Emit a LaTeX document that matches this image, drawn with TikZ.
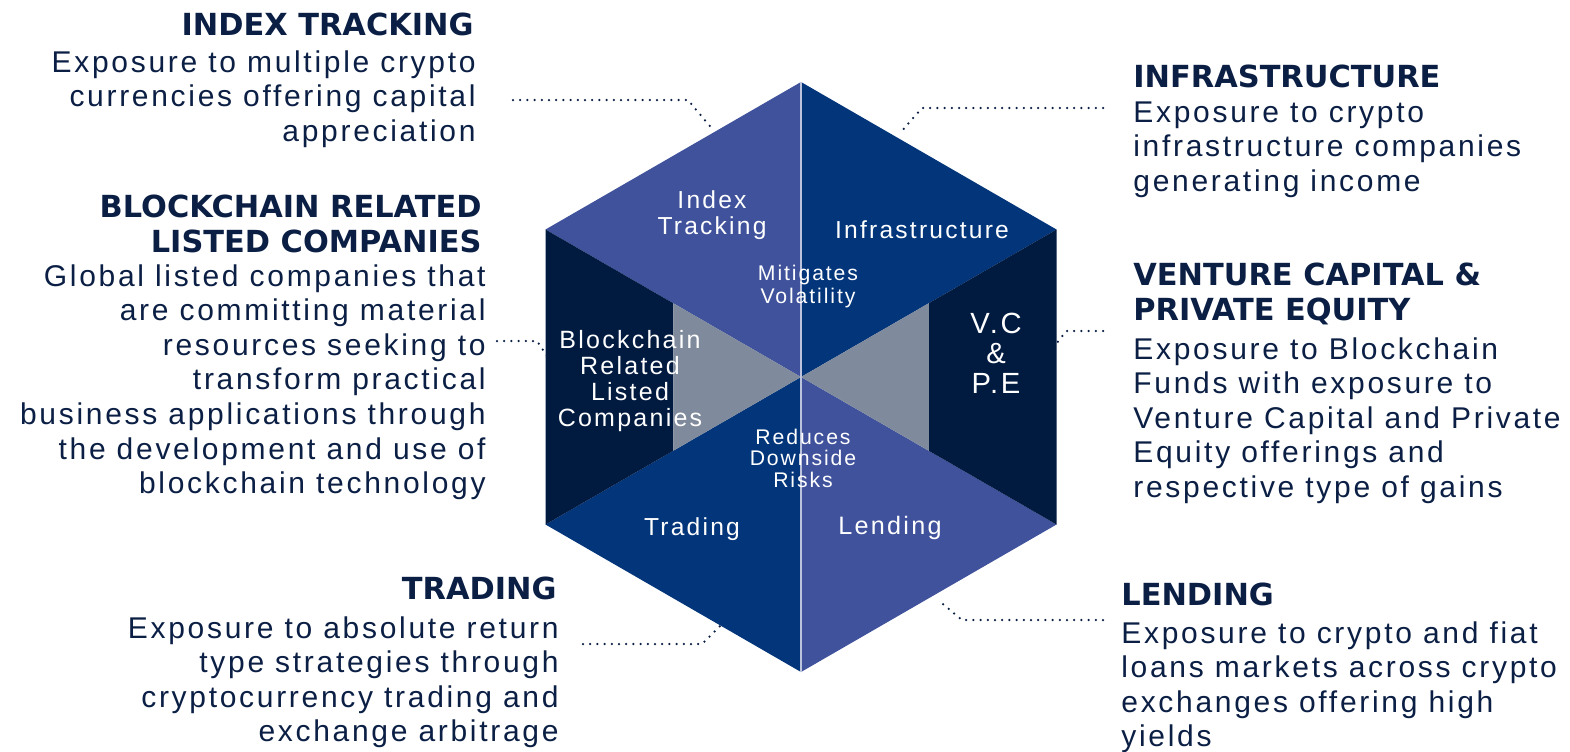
\documentclass[tikz,border=0pt]{standalone}
\usepackage{fontspec}
\setmainfont{Liberation Sans}
\newfontfamily\bodyfont{Liberation Sans}[LetterSpace=9]
\newfontfamily\headfont{DejaVu Sans}
\usepackage{tikz}
\usetikzlibrary{calc}
\definecolor{hexlight}{HTML}{3F529B}
\definecolor{hexdark}{HTML}{03357A}
\definecolor{hexnavy}{HTML}{011A40}
\definecolor{hexgray}{HTML}{7F8A9C}
\definecolor{inknavy}{HTML}{0B1F45}
\newcommand{\facet}[4]{\fill[#1] (#2) -- (#3) -- (#4) -- cycle;}

\begin{document}
\begin{tikzpicture}[x=0.5pt,y=-0.5pt,
  head/.style={font=\headfont\bfseries\fontsize{15.2}{17.5}\selectfont, text=inknavy, inner sep=0pt},
  body/.style={font=\bodyfont\fontsize{15}{17.3}\selectfont, text=inknavy, inner sep=0pt},
  inlabel/.style={text=white, inner sep=0pt, align=center},
  leader/.style={draw=inknavy, line width=1.25pt, line cap=round, dash pattern=on 0pt off 3.6pt}]
    \useasboundingbox (0,0) rectangle (1570,751);

    \coordinate (c) at (801,377);
    \coordinate (t) at (801,82);
    \coordinate (b) at (801,672);
    \coordinate (ul) at (545.5,229.5);
    \coordinate (ll) at (545.5,524.5);
    \coordinate (ur) at (1056.5,229.5);
    \coordinate (lr) at (1056.5,524.5);
    \coordinate (ml1) at ($(c)!0.5!(ul)$);
    \coordinate (ml2) at ($(c)!0.5!(ll)$);
    \coordinate (mr1) at ($(c)!0.5!(ur)$);
    \coordinate (mr2) at ($(c)!0.5!(lr)$);

    \facet{hexlight}{t}{ul}{c}
    \facet{hexdark}{t}{ur}{c}
    \facet{hexdark}{c}{ll}{b}
    \facet{hexlight}{c}{lr}{b}
    \fill[hexnavy] (ul) -- (ml1) -- (ml2) -- (ll) -- cycle;
    \fill[hexnavy] (ur) -- (mr1) -- (mr2) -- (lr) -- cycle;
    \facet{hexgray}{ml1}{c}{ml2}
    \facet{hexgray}{mr1}{c}{mr2}
    \draw[white!65!hexlight, line width=0.6pt] (t) -- (b);

    \node[inlabel, font=\bodyfont\fontsize{12.3}{13}\selectfont, anchor=north] (in-idx) at (712,190) {Index\\Tracking};
    \node[inlabel, font=\bodyfont\fontsize{12.3}{13}\selectfont, anchor=base] (in-infra) at (922,238) {Infrastructure};
    \node[inlabel, font=\bodyfont\fontsize{10.6}{11.5}\selectfont, anchor=north] (in-mit) at (808,265) {Mitigates\\Volatility};
    \node[inlabel, font=\bodyfont\fontsize{12.5}{13}\selectfont, anchor=north] (in-bc) at (630,330) {Blockchain\\Related\\Listed\\Companies};
    \node[inlabel, font=\bodyfont\fontsize{14.6}{15}\selectfont, anchor=north] (in-vc) at (996,313) {V.C\\\&\\P.E};
    \node[inlabel, font=\bodyfont\fontsize{10.6}{10.6}\selectfont, anchor=north] (in-red) at (803,429) {Reduces\\Downside\\Risks};
    \node[inlabel, font=\bodyfont\fontsize{12.3}{13}\selectfont, anchor=base] (in-trd) at (692,535) {Trading};
    \node[inlabel, font=\bodyfont\fontsize{12.6}{13}\selectfont, anchor=base] (in-lnd) at (890,534) {Lending};

    \node[head, anchor=base east] (idx-head) at (474,35) {INDEX TRACKING};
    \node[body, anchor=north east, align=right] (idx-body) at (476,50) {Exposure to multiple crypto\\currencies offering capital\\appreciation};
    \node[head, anchor=north east, align=right] (bc-head) at (482,195) {BLOCKCHAIN RELATED\\LISTED COMPANIES};
    \node[body, anchor=north east, align=right] (bc-body) at (486,264) {Global listed companies that\\are committing material\\resources seeking to\\transform practical\\business applications through\\the development and use of\\blockchain technology};
    \node[head, anchor=base east] (trd-head) at (557,599) {TRADING};
    \node[body, anchor=north east, align=right] (trd-body) at (559,616) {Exposure to absolute return\\type strategies through\\cryptocurrency trading and\\exchange arbitrage};
    \node[head, anchor=base west] (infra-head) at (1133,87) {INFRASTRUCTURE};
    \node[body, anchor=north west, align=left] (infra-body) at (1133,101) {Exposure to crypto\\infrastructure companies\\generating income};
    \node[head, anchor=north west, align=left] (vc-head) at (1133,263) {VENTURE CAPITAL \&\\PRIVATE EQUITY};
    \node[body, anchor=north west, align=left] (vc-body) at (1133,337) {Exposure to Blockchain\\Funds with exposure to\\Venture Capital and Private\\Equity offerings and\\respective type of gains};
    \node[head, anchor=base west] (lnd-head) at (1121,605) {LENDING};
    \node[body, anchor=north west, align=left] (lnd-body) at (1121,621) {Exposure to crypto and fiat\\loans markets across crypto\\exchanges offering high\\yields};

    \coordinate (idx-a) at (513,100);
    \coordinate (idx-k) at (688,100);
    \coordinate (idx-e) at (714,131);
    \coordinate (infra-a) at (1103,108);
    \coordinate (infra-k) at (922,108);
    \coordinate (infra-e) at (900,133);
    \coordinate (vc-a) at (1103,331);
    \coordinate (vc-k) at (1066,331);
    \coordinate (vc-e) at (1057,343);
    \coordinate (bc-a) at (497,341);
    \coordinate (bc-k) at (537,341);
    \coordinate (bc-e) at (547,356);
    \coordinate (trd-a) at (583,644);
    \coordinate (trd-k) at (702,644);
    \coordinate (trd-e) at (720,626);
    \coordinate (lnd-a) at (1103,620);
    \coordinate (lnd-k) at (962,620);
    \coordinate (lnd-e) at (938,600);
    \draw[leader] (idx-a) -- (idx-k) -- (idx-e);
    \draw[leader] (infra-a) -- (infra-k) -- (infra-e);
    \draw[leader] (vc-a) -- (vc-k) -- (vc-e);
    \draw[leader] (bc-a) -- (bc-k) -- (bc-e);
    \draw[leader] (trd-a) -- (trd-k) -- (trd-e);
    \draw[leader] (lnd-a) -- (lnd-k) -- (lnd-e);
\end{tikzpicture}
\end{document}
